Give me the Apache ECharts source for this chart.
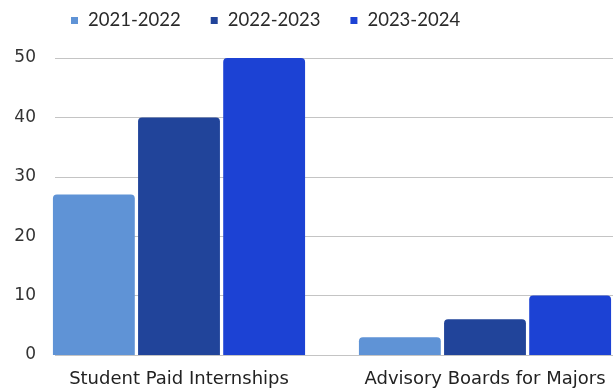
<!DOCTYPE html>
<html>
<head>
<meta charset="utf-8">
<script src="https://cdn.jsdelivr.net/npm/echarts@6/dist/echarts.min.js"></script>
<style>
  html, body { margin: 0; padding: 0; background: #fff; }
  #chart { width: 613px; height: 389px; }
</style>
</head>
<body>
<div id="chart"></div>
<script>
// categories and series
var categories = ["Student Paid Internships", "Advisory Boards for Majors"];
var seriesNames = ["2021-2022", "2022-2023", "2023-2024"];
var data2122 = [27, 3];
var data2223 = [40, 6];
var data2324 = [50, 10];
var yTicks = [0, 10, 20, 30, 40, 50];

var colors = ["#5f93d6", "#21449a", "#1c42d4"];
var font = "Lato, 'Open Sans', sans-serif";
var wideFont = "'DejaVu Sans', sans-serif";

var chart = echarts.init(document.getElementById("chart"));

var yMin = yTicks[0];
var yMax = yTicks[yTicks.length - 1];
var yStep = yTicks[1] - yTicks[0];

var option = {
  color: colors,
  animation: false,
  legend: {
    top: 6,
    left: 66,
    itemWidth: 7,
    itemHeight: 7,
    itemGap: 30,
    icon: "rect",
    data: seriesNames,
    textStyle: {
      fontFamily: font,
      fontSize: 18.5,
      color: "#2a2a2a",
      padding: [0, 0, 0, 5],
    },
  },
  // grid 0 - value axis labels + grid lines, grid 1 - the bars (wider than the canvas, cropped like the source)
  grid: [
    { left: 55, right: 0, top: 58, bottom: 34, outerBoundsMode: "none" },
    { left: 26, width: 612, top: 58, bottom: 34, outerBoundsMode: "none" },
  ],
  xAxis: [
    {
      gridIndex: 0,
      type: "category",
      data: categories,
      show: false,
    },
    {
      gridIndex: 1,
      type: "category",
      data: categories,
      axisLine: { show: false },
      axisTick: { show: false },
      axisLabel: {
        fontFamily: wideFont,
        fontSize: 18,
        color: "#222",
        margin: 15,
        interval: 0,
        hideOverlap: false,
      },
    },
  ],
  yAxis: [
    {
      gridIndex: 0,
      type: "value",
      min: yMin,
      max: yMax,
      interval: yStep,
      axisLine: { show: false },
      axisTick: { show: false },
      axisLabel: {
        fontFamily: wideFont,
        fontSize: 17,
        color: "#333",
        margin: 19,
      },
      splitLine: { lineStyle: { color: "#c4c4c4", width: 1 } },
    },
    {
      gridIndex: 1,
      type: "value",
      min: yMin,
      max: yMax,
      interval: yStep,
      show: false,
      splitLine: { show: false },
    },
  ],
  series: [
    {
      name: seriesNames[0],
      type: "bar",
      xAxisIndex: 1,
      yAxisIndex: 1,
      data: data2122,
      barGap: "4%",
      barCategoryGap: "17.6%",
      itemStyle: { borderRadius: [4, 4, 0, 0] },
    },
    {
      name: seriesNames[1],
      type: "bar",
      xAxisIndex: 1,
      yAxisIndex: 1,
      data: data2223,
      barGap: "4%",
      barCategoryGap: "17.6%",
      itemStyle: { borderRadius: [4, 4, 0, 0] },
    },
    {
      name: seriesNames[2],
      type: "bar",
      xAxisIndex: 1,
      yAxisIndex: 1,
      data: data2324,
      barGap: "4%",
      barCategoryGap: "17.6%",
      itemStyle: { borderRadius: [4, 4, 0, 0] },
    },
  ],
};

chart.setOption(option);
</script>
</body>
</html>
